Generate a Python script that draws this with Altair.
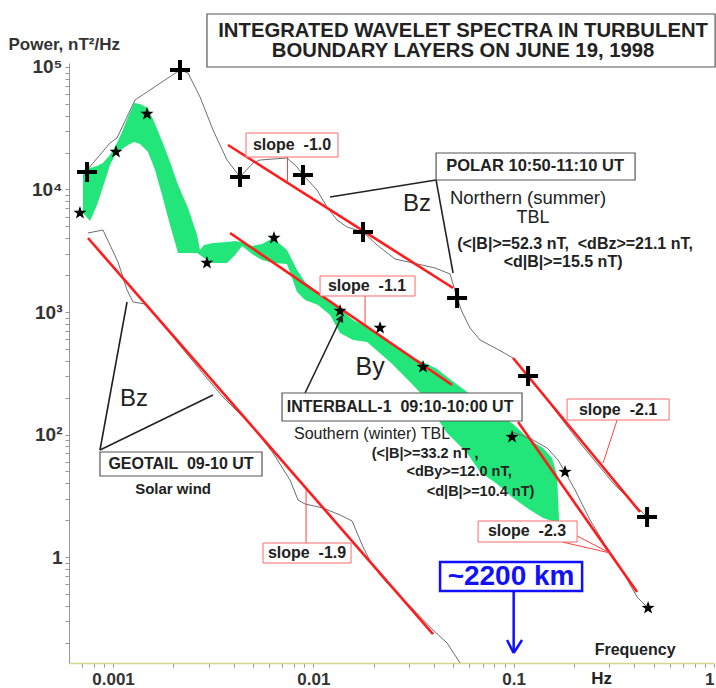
import altair as alt
import pandas as pd

FONT = "Liberation Sans"
NB = "\u00a0"  # keeps the wide gaps inside the labels

# ---------------- spectra: frequency (Hz) / power (nT^2/Hz) ----------------
# POLAR Bz, northern (summer) TBL
polar_f = [0.000742, 0.000795, 0.000966, 0.001047, 0.001288, 0.00216, 0.002368, 0.002719,
           0.003157, 0.003708, 0.004305, 0.005, 0.005418, 0.007389, 0.008292, 0.008884,
           0.01043, 0.0117, 0.01313, 0.01473, 0.0177, 0.0208, 0.02558, 0.03146, 0.04052,
           0.04814, 0.05218, 0.05527, 0.06058, 0.06797, 0.08263, 0.09931, 0.1114, 0.118,
           0.1468, 0.2146, 0.3135, 0.4634]
polar_p = [14430, 16450, 23960, 26330, 53780, 94520, 89330, 56910,
           30600, 17410, 12650, 16450, 17410, 18080, 15270, 13140,
           9906, 7195, 5636, 4942, 4498, 3523, 2708, 2512, 2287,
           2043, 1301, 1000, 740.4, 590.6, 498.9, 421.2, 336.1, 300.4,
           191.2, 85.22, 40.19, 21.21]
polar_mark_f = [0.000742, 0.00216, 0.004305, 0.008884, 0.0177, 0.05218, 0.118, 0.4634]
polar_mark_p = [13900, 94520, 12650, 13140, 4498, 1301, 300.4, 21.21]

# GEOTAIL Bz, solar wind
geotail_f = [0.00075, 0.000891, 0.001059, 0.001175, 0.001259, 0.001445, 0.001994, 0.002879,
             0.00354, 0.005, 0.00629, 0.00765, 0.008389, 0.009091, 0.01118, 0.01359,
             0.01561, 0.0177, 0.01964, 0.02333, 0.02936, 0.03959, 0.04651, 0.05401]
geotail_p = [4415, 4670, 2560, 1512, 1207, 1163, 625.2, 300.4,
             202.4, 115.1, 70.63, 42.52, 29.19, 27.08, 25.12, 22.03,
             19.68, 12.07, 8.604, 6.135, 4.211, 2.536, 1.986, 1.364]

# INTERBALL-1 By, southern (winter) TBL: spread band
ib_band_f = [0.000708, 0.000768, 0.000832, 0.000891, 0.000966, 0.001035, 0.001109, 0.001188,
             0.001273, 0.001364, 0.001495, 0.001621, 0.001757, 0.001926, 0.002112, 0.002368,
             0.002627, 0.002719, 0.002847, 0.003157, 0.003708, 0.004066, 0.004406, 0.004943,
             0.005544, 0.00629, 0.007389, 0.008292, 0.009091, 0.01056, 0.01212, 0.01359,
             0.01579, 0.01854, 0.02415, 0.0304, 0.03694, 0.04146, 0.04651, 0.05852,
             0.06797, 0.08263, 0.09931, 0.1207, 0.1402, 0.1554, 0.1647, 0.1685]
ib_band_hi = [14430, 14980, 15550, 16450, 19120, 23080, 29470, 39070,
              50820, 49890, 46280, 34250, 24880, 16770, 10880, 7063,
              4253, 3207, 3523, 3658, 3727, 3797, 3727, 3457,
              3590, 4019, 3207, 2203, 1757, 1429, 1207, 1058,
              860.4, 754.4, 558.4, 437.3, 376.3, 342.4, 294.7, 222.3,
              184.2, 152.6, 121.8, 90.19, 77.6, 64.3, 46.7, 19.68]
ib_band_lo = [6430, 5534, 7473, 10480, 15850, 19860, 21410, 23080,
              24430, 23520, 20240, 14430, 9018, 5131, 3030, 3030,
              3030, 2919, 2759, 2512, 2512, 2919, 3457, 2975,
              2658, 2512, 2465, 1456, 1253, 1140, 945.1, 674.0,
              590.6, 569.0, 390.7, 268.3, 191.2, 136.3, 102.9, 70.63,
              49.41, 39.44, 30.3, 24.19, 20.82, 19.68, 18.95, 18.95]
ib_tail_f = [0.09931, 0.125, 0.1468, 0.1666, 0.1805, 0.2025, 0.2406, 0.286, 0.3398, 0.4131, 0.4688]
ib_tail_p = [104.8, 90.19, 77.6, 61.92, 49.41, 35.23, 20.05, 12.53, 8.288, 4.716, 3.834]
ib_star_f = [0.000684, 0.001035, 0.001478, 0.002945, 0.006363, 0.01359, 0.02153, 0.03529,
             0.09817, 0.1805, 0.4688]
ib_star_p = [6430, 20240, 41330, 2512, 4019, 1019, 740.4, 355.6, 95.41, 49.41, 3.834]

# power-law fits: start / end points
fit_f1 = [0.003751, 0.003838, 0.09931, 0.1052, 0.00075]
fit_p1 = [23080, 4415, 421.2, 126.5, 4019]
fit_f2 = [0.04983, 0.04926, 0.4276, 0.4131, 0.03959]
fit_p2 = [1570, 253.6, 23.30, 5.179, 2.351]

# axis ticks
x_ticks = [0.0007, 0.0008, 0.0009, 0.001, 0.002, 0.003, 0.004, 0.005, 0.006, 0.007, 0.008,
           0.009, 0.01, 0.02, 0.03, 0.04, 0.05, 0.06, 0.07, 0.08, 0.09, 0.1, 0.2, 0.3, 0.4,
           0.5, 0.6, 0.7, 0.8, 0.9, 1]
y_ticks = [2, 3, 4, 5, 6, 7, 8, 9, 10, 20, 30, 40, 50, 60, 70, 80, 90, 100, 200, 300, 400,
           500, 600, 700, 800, 900, 1000, 2000, 3000, 4000, 5000, 6000, 7000, 8000, 9000,
           10000, 20000, 30000, 40000, 50000, 60000, 70000, 80000, 90000, 100000]

# ---------------- scales / axes ----------------
xs = alt.Scale(type="log", domain=[0.000603, 1.0], nice=False)
ys = alt.Scale(type="log", domain=[1.364, 107800], nice=False)

x_axis = alt.Axis(
    values=x_ticks, title=None, grid=False,
    labelExpr="datum.value == 0.001 ? '0.001' : datum.value == 0.01 ? '0.01' : "
              "datum.value == 0.1 ? '0.1' : datum.value == 1 ? '1' : ''",
    domainColor="#d6d68a", domainWidth=1.5, tickColor="#999", tickSize=4,
    labelFont=FONT, labelFontSize=17, labelFontWeight="bold", labelColor="#333",
    labelPadding=4, labelOverlap=False, labelFlush=True,
)
y_axis = alt.Axis(
    values=y_ticks, grid=False,
    labelExpr="datum.value == 100000 ? '10⁵' : datum.value == 10000 ? '10⁴' : "
              "datum.value == 1000 ? '10³' : datum.value == 100 ? '10²' : "
              "datum.value == 10 ? '1' : ''",
    domainColor="#999", tickColor="#999", tickSize=4,
    labelFont=FONT, labelFontSize=19, labelFontWeight="bold", labelColor="#333",
    labelPadding=3, labelOverlap=False, labelFlush=False,
    title="Power, nT²/Hz", titleAngle=0, titleAlign="left", titleBaseline="middle",
    titleX=-61, titleY=-19, titleFont=FONT, titleFontSize=17, titleFontWeight="bold",
    titleColor="#333",
)


def X(field="f"):
    return alt.X(f"{field}:Q", scale=xs, axis=x_axis)


def Y(field="p"):
    return alt.Y(f"{field}:Q", scale=ys, axis=y_axis)


# ---------------- data tables ----------------
band = pd.DataFrame({"f": ib_band_f, "hi": ib_band_hi, "lo": ib_band_lo})
polar = pd.DataFrame({"f": polar_f, "p": polar_p})
polar_marks = pd.DataFrame({"f": polar_mark_f, "p": polar_mark_p})
geotail = pd.DataFrame({"f": geotail_f, "p": geotail_p})
ib_tail = pd.DataFrame({"f": ib_tail_f, "p": ib_tail_p})
ib_stars = pd.DataFrame({"f": ib_star_f, "p": ib_star_p})
fits = pd.DataFrame({"f": fit_f1, "p": fit_p1, "f2": fit_f2, "p2": fit_p2})

# annotation anchors (frequency, power)
black_boxes = pd.DataFrame({
    "f": [0.002945, 0.04099, 0.006978, 0.000861],
    "f2": [1.0127, 0.4037, 0.1101, 0.005544],
    "p": [100000, 11950, 128.9, 45.83],
    "p2": [270800, 19860, 218.2, 71.97],
})
red_boxes = pd.DataFrame({
    "f": [0.004613, 0.0108, 0.1848, 0.06643, 0.005608],
    "f2": [0.01328, 0.03219, 0.5968, 0.2073, 0.01543],
    "p": [18420, 1351, 131.3, 13.26, 8.933],
    "p2": [28920, 1967, 194.9, 19.68, 13.01],
})
blue_box = pd.DataFrame({"f": [0.04291], "f2": [0.2196], "p": [5.277], "p2": [9.104]})

black_leaders = pd.DataFrame({
    "f": [0.04099, 0.04099, 0.000861, 0.000861, 0.009091],
    "p": [11950, 11950, 74.73, 74.73, 218.2],
    "f2": [0.01212, 0.04983, 0.001175, 0.003157, 0.01375],
    "p2": [8686, 2082, 1207, 210.1, 893.4],
})
red_leaders = pd.DataFrame({
    "f": [0.00743, 0.01812, 0.3283, 0.1745, 0.2073, 0.009196],
    "p": [18420, 1351, 131.3, 13.26, 14.84, 13.01],
    "f2": [0.00743, 0.01812, 0.2795, 0.303, 0.303, 0.009196],
    "p2": [11730, 783.2, 58.53, 10.78, 10.78, 35.24],
})
blue_arrow = pd.DataFrame({
    "f": [0.1, 0.09268, 0.1101],
    "p": [5.277, 2.101, 2.101],
    "f2": [0.1, 0.1, 0.1],
    "p2": [1.645, 1.645, 1.645],
})
arrow_tip = pd.DataFrame({"f": [0.01375], "p": [893.4]})

bold_text = pd.DataFrame([
    (0.05591, 196700, "INTEGRATED WAVELET SPECTRA IN TURBULENT", 20.3),
    (0.05591, 135100, "BOUNDARY LAYERS ON JUNE 19, 1998", 20.3),
    (0.007826, 23080, f"slope {NB}-1.0", 16),
    (0.01854, 1630, f"slope {NB}-1.1", 16),
    (0.3321, 158.5, f"slope {NB}-2.1", 16),
    (0.1166, 16.30, f"slope {NB}-2.3", 16),
    (0.0093, 10.78, f"slope {NB}-1.9", 16),
    (0.1279, 15550, "POLAR 10:50-11:10 UT", 16.5),
    (0.2025, 3590, f"(<|B|>=52.3 nT, {NB}<dBz>=21.1 nT,", 16),
    (0.1765, 2560, "<d|B|>=15.5 nT)", 16),
    (0.02709, 167.7, f"INTERBALL-1 {NB}09:10-10:00 UT", 16),
    (0.03611, 69.31, "(<|B|>=33.2 nT ,", 14.5),
    (0.05339, 49.41, "<dBy>=12.0 nT,", 14.5),
    (0.06836, 33.93, "<d|B|>=10.4 nT)", 14.5),
    (0.002185, 57.43, f"GEOTAIL {NB}09-10 UT", 16),
    (0.001994, 35.91, "Solar wind", 15),
    (0.4037, 1.741, "Frequency", 16),
    (0.275, 1.0095, "Hz", 17),
], columns=["f", "p", "label", "size"])

plain_text = pd.DataFrame([
    (0.03294, 7613, "Bz", 24),
    (0.01919, 355.6, "By", 25),
    (0.001273, 194.9, "Bz", 24),
    (0.118, 8523, "Northern (summer)", 18.5),
    (0.125, 5853, "TBL", 18),
    (0.01964, 100.9, "Southern (winter) TBL", 16),
], columns=["f", "p", "label", "size"])

blue_text = pd.DataFrame([(0.09705, 6.865, "~2200 km", 28)], columns=["f", "p", "label", "size"])

PLUS = "M-1,0L1,0M0,-1L0,1"
STAR = ("M0,-1L0.235,-0.324L0.951,-0.309L0.38,0.124L0.588,0.809L0,0.4"
        "L-0.588,0.809L-0.38,0.124L-0.951,-0.309L-0.235,-0.324Z")

# ---------------- layers ----------------
band_layer = alt.Chart(band).mark_area(color="#22e67a", opacity=1).encode(
    x=X(), y=Y("hi"), y2="lo:Q",
)

polar_line = alt.Chart(polar).mark_line(color="#6e6e6e", strokeWidth=1).encode(x=X(), y=Y())
geotail_line = alt.Chart(geotail).mark_line(color="#6e6e6e", strokeWidth=1).encode(x=X(), y=Y())
tail_line = alt.Chart(ib_tail).mark_line(color="#6e6e6e", strokeWidth=1).encode(x=X(), y=Y())

fit_layer = alt.Chart(fits).mark_rule(color="#ff1c1c", strokeWidth=2.6).encode(
    x=X(), y=Y(), x2="f2:Q", y2="p2:Q")

black_lead = alt.Chart(black_leaders).mark_rule(color="#222", strokeWidth=1.6).encode(
    x=X(), y=Y(), x2="f2:Q", y2="p2:Q")
red_lead = alt.Chart(red_leaders).mark_rule(color="#ff4040", strokeWidth=1).encode(
    x=X(), y=Y(), x2="f2:Q", y2="p2:Q")
blue_lead = alt.Chart(blue_arrow).mark_rule(color="#1010ff", strokeWidth=2.5).encode(
    x=X(), y=Y(), x2="f2:Q", y2="p2:Q")
tip = alt.Chart(arrow_tip).mark_point(
    shape="triangle-up", filled=True, color="#222", size=70, angle=26, opacity=1
).encode(x=X(), y=Y())

bbox = alt.Chart(black_boxes).mark_rect(fill="white", stroke="#555", strokeWidth=1.2).encode(
    x=X(), x2="f2:Q", y=Y(), y2="p2:Q")
rbox = alt.Chart(red_boxes).mark_rect(fill="white", stroke="#ff6a6a", strokeWidth=1).encode(
    x=X(), x2="f2:Q", y=Y(), y2="p2:Q")
bluebox = alt.Chart(blue_box).mark_rect(fill="white", stroke="#1010ff", strokeWidth=2.5).encode(
    x=X(), x2="f2:Q", y=Y(), y2="p2:Q")

plus_layer = alt.Chart(polar_marks).mark_point(
    shape=PLUS, size=400, strokeWidth=4, color="black", filled=False, opacity=1
).encode(x=X(), y=Y())
star_layer = alt.Chart(ib_stars).mark_point(
    shape=STAR, size=190, filled=True, color="black", opacity=1
).encode(x=X(), y=Y())


def text_layer(df, weight, color):
    return alt.Chart(df).mark_text(
        font=FONT, fontWeight=weight, color=color, align="center", baseline="middle"
    ).encode(x=X(), y=Y(), text="label:N", size=alt.Size("size:Q", scale=None, legend=None))


chart = alt.layer(
    band_layer, polar_line, geotail_line, tail_line, fit_layer,
    black_lead, red_lead, blue_lead, tip,
    bbox, rbox, bluebox,
    plus_layer, star_layer,
    text_layer(bold_text, "bold", "#222"),
    text_layer(plain_text, "normal", "#222"),
    text_layer(blue_text, "bold", "#1010ff"),
).properties(
    width=645, height=600,
    autosize=alt.AutoSizeParams(type="none"),
    padding={"left": 69, "top": 63, "right": 2, "bottom": 25},
    background="white",
).configure_view(stroke=None)

chart.save("out.html", embed_options={"renderer": "svg", "actions": False})
